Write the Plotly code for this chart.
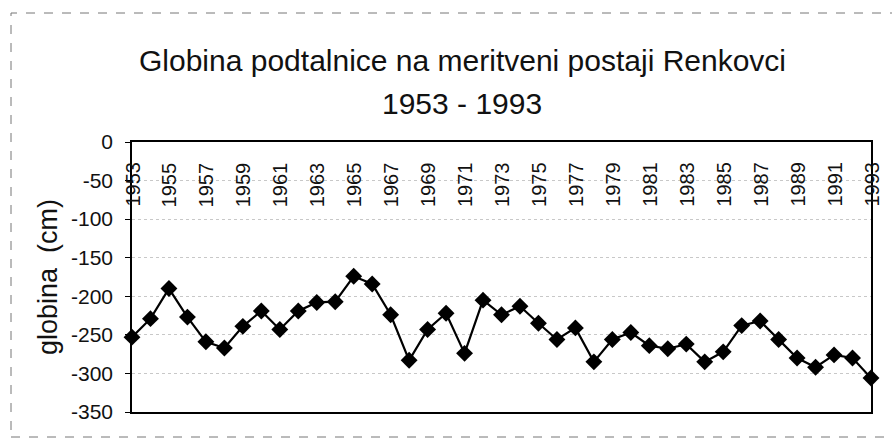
import plotly.graph_objects as go

years = list(range(1953, 1994))
depth_cm = [-253, -229, -190, -227, -259, -267, -239, -219, -243, -219,
            -208, -207, -174, -184, -224, -283, -243, -222, -274, -205,
            -224, -213, -235, -256, -241, -285, -256, -247, -264, -268,
            -262, -285, -272, -238, -232, -256, -280, -292, -276, -280,
            -306]
x_tick_vals = list(range(1953, 1994, 2))
x_tick_text = [str(v) for v in x_tick_vals]
y_tick_vals = [0, -50, -100, -150, -200, -250, -300, -350]
y_tick_text = ["0", "-50", "-100", "-150", "-200", "-250", "-300", "-350"]
title_line1 = "Globina podtalnice na meritveni postaji Renkovci"
title_line2 = "1953 - 1993"
y_title = "globina\u00a0 (cm)"

FONT = "Liberation Sans, Arial, sans-serif"
W, H = 892, 441
L, R, T, B = 132, 21, 142, 29
PW, PH = W - L - R, H - T - B


def px(xp):
    return (xp - L) / PW


def py(yp):
    return (H - B - yp) / PH


fig = go.Figure()
fig.add_trace(go.Scatter(
    x=years, y=depth_cm, mode="lines+markers",
    line=dict(color="black", width=2.2),
    marker=dict(symbol="diamond", size=13, color="black"),
    cliponaxis=False, showlegend=False,
))

annotations = [
    dict(text=title_line1, xref="paper", yref="paper",
         x=px(462), y=py(61), xanchor="center", yanchor="middle",
         showarrow=False, font=dict(size=30, family=FONT, color="#111111")),
    dict(text=title_line2, xref="paper", yref="paper",
         x=px(462), y=py(104), xanchor="center", yanchor="middle",
         showarrow=False, font=dict(size=30, family=FONT, color="#111111")),
    dict(text=y_title, xref="paper", yref="paper",
         x=px(48), y=0.5, xanchor="center", yanchor="middle",
         textangle=-90, showarrow=False,
         font=dict(size=27, family=FONT, color="#111111")),
]
for v, t in zip(x_tick_vals, x_tick_text):
    annotations.append(dict(
        text=t, xref="x", yref="paper", x=v, y=py(160),
        xanchor="center", yanchor="top", textangle=-90, showarrow=False,
        font=dict(size=20, family=FONT, color="#111111"),
    ))

fig.update_layout(
    width=W, height=H,
    margin=dict(l=L, r=R, t=T, b=B, autoexpand=False),
    paper_bgcolor="white", plot_bgcolor="white",
    font=dict(family=FONT, color="#111111"),
    xaxis=dict(
        range=[1953, 1993], side="top",
        tickmode="array", tickvals=x_tick_vals, showticklabels=False,
        showgrid=False, zeroline=False,
        showline=True, linecolor="black", linewidth=1.5, mirror=True,
        ticks="",
    ),
    yaxis=dict(
        range=[-350, 0], tickmode="array", tickvals=y_tick_vals,
        ticktext=y_tick_text,
        tickfont=dict(size=21, family=FONT, color="#111111"),
        showgrid=True, gridcolor="#c8c8c8", griddash="dot", gridwidth=1,
        zeroline=False,
        showline=True, linecolor="black", linewidth=1.5, mirror=True,
        ticks="outside", ticklen=5, tickcolor="black", ticklabelstandoff=8,
    ),
    annotations=annotations,
    shapes=[
        dict(type="rect", xref="paper", yref="paper",
             x0=px(11), x1=px(900), y0=py(437), y1=py(13),
             line=dict(color="#777777", width=1, dash="dash"),
             layer="below"),
    ],
)

fig.write_html(
    "out.html",
    config={"displayModeBar": False},
    post_script="document.body.style.margin='0';document.body.style.padding='0';document.body.style.overflow='hidden';",
)
